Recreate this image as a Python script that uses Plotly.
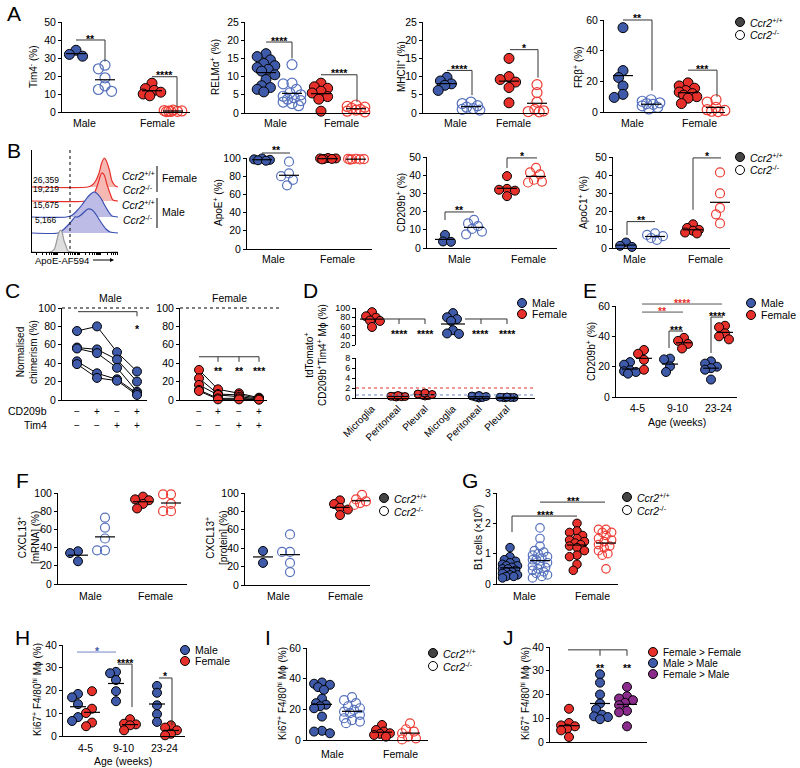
import numpy as np
import plotly.graph_objects as go

W, H = 800, 768
FONT = "Liberation Sans, Arial, sans-serif"
BLUE, BLUE_O = "#3E5AA8", "#5671BD"
RED, RED_O = "#E8302A", "#EE3D35"
PURPLE = "#8B2C8C"
WT = "<i>Ccr2</i><sup>+/+</sup>"
KO = "<i>Ccr2</i><sup>-/-</sup>"

# ---------------- data ----------------
# A  (male wt, male ko, female wt, female ko)
tim4_m_wt = [34.3, 32, 31]
tim4_m_ko = [26, 24, 19, 14.5, 12.5, 11.5]
tim4_f_wt = [16, 13, 12, 11, 10, 9]
tim4_f_ko = [1.0, 0.8, 0.6, 0.5, 0.4, 0.3, 0.2]

relma_m_wt = [16.3, 15.5, 14.6, 13.6, 13, 12.5, 12, 11.5, 10.5, 9.2, 7.5, 7, 6.5, 5.8]
relma_m_ko = [13.3, 8.2, 8.0, 6.5, 5.5, 5.0, 4.6, 4.2, 3.8, 3.4, 3.0, 2.6, 2.0]
relma_f_wt = [8.2, 7.2, 6.8, 6.0, 5.5, 4.5, 3.8, 0.5]
relma_f_ko = [2.2, 1.8, 1.6, 1.3, 1.0, 0.8, 0.5, 0.3]

mhc_m_wt = [9.8, 8.8, 8.0, 7.6, 6.2]
mhc_m_ko = [3.0, 2.6, 2.0, 1.6, 1.2, 1.0, 0.8]
mhc_f_wt = [15, 10, 9.2, 8.5, 7, 2.8]
mhc_f_ko = [7.8, 5.6, 3.0, 1.0, 0.6, 0.4, 0.3]

frb_m_wt = [55, 27, 22.5, 17, 11.5, 9.5]
frb_m_ko = [8, 7, 6, 5.5, 5, 4, 3, 2]
frb_f_wt = [19, 17, 15.5, 14, 13, 12, 11, 10, 9, 5.5]
frb_f_ko = [8, 6.5, 3, 1.5, 1, 0.5, 0.3]

# B histogram (ApoE-AF594 intensity 0-100, relative count)
hist_rows = ["F_wt", "F_ko", "M_wt", "M_ko", "iso"]
hist_mfi = ["26,359", "19,219", "15,675", "5,166"]
hist_x = {
    "F_wt": [0, 65, 70, 74, 78, 81, 84, 86, 90, 93, 97, 100],
    "F_ko": [0, 63, 67, 72, 77, 79, 81, 84, 87, 91, 94, 100],
    "M_wt": [0, 40, 47, 52, 58, 63, 67, 72, 75, 80, 85, 90, 93, 100],
    "M_ko": [0, 30, 36, 42, 47, 50, 53, 57, 62, 65, 70, 74, 80, 86, 91, 100],
    "iso": [0, 21, 26, 29, 31, 33, 35, 37, 40, 42, 100],
}
hist_y = {
    "F_wt": [0, 0, 2, 6, 14, 24, 29, 27, 17, 6, 1, 0],
    "F_ko": [0, 0, 2, 7, 18, 24, 28, 26, 17, 7, 1, 0],
    "M_wt": [0, 0, 2, 6, 12, 18, 22, 25, 24, 19, 11, 4, 1, 0],
    "M_ko": [0, 0, 3, 8, 13, 16, 16, 18, 22, 24, 23, 19, 11, 4, 1, 0],
    "iso": [0, 0, 3, 12, 19, 22, 20, 12, 5, 1, 0],
}

apoe_m_wt = [99.5, 98.5, 98, 97.5, 97]
apoe_m_ko = [96, 83, 80, 76, 70]
apoe_f_wt = [100, 99.5, 99.5, 99, 99, 98.5]
apoe_f_ko = [99.2, 99, 98.8, 98.6, 98.4, 98.2]

cd209_m_wt = [7.2, 3.6, 3.4]
cd209_m_ko = [15.5, 13.5, 12, 10.5, 9, 7.5]
cd209_f_wt = [39.5, 32.5, 32, 31.5, 28.5]
cd209_f_ko = [44, 41.5, 40.5, 37.5, 36.5, 36]

apoc1_m_wt = [3.0, 1.2, 0.6]
apoc1_m_ko = [8, 7.2, 6.5, 5.5, 4.5]
apoc1_f_wt = [13, 11, 10, 9.5, 8.5, 8]
apoc1_f_ko = [41.5, 30, 22, 18.5, 13.5]

# C  chimerism per mouse across CD209b/Tim4 subsets
chim_cd209b = ["−", "+", "−", "+"]
chim_tim4 = ["−", "−", "+", "+"]
chim_male = [[75, 80, 52, 31], [57, 55, 44, 20], [56, 51, 35, 9], [42, 29, 22.5, 7.3], [39, 24, 21, 5.5]]
chim_female = [[32.7, 11.6, 7.3, 2.5], [23.6, 6.5, 5.5, 1.8], [16.4, 5.5, 3.6, 1.1],
               [10.9, 1.8, 1.8, 0.7], [9.8, 0.7, 0.7, 0.4]]

# D
d_sites = ["Microglia", "Peritoneal", "Pleural", "Microglia", "Peritoneal", "Pleural"]
d_f_micro = [91, 82, 79, 73, 72, 59]
d_f_perit = [0.2, 0.25, 0.3, 0.3, 0.35, 0.5]
d_f_pleur = [0.4, 0.5, 0.6, 0.7, 0.8, 1.0]
d_m_micro = [89, 80, 76, 72, 52, 45, 44]
d_m_perit = [0.0, 0.1, 0.2, 0.3, 0.4, 0.5]
d_m_pleur = [0.05, 0.1, 0.1, 0.1, 0.15, 0.2]
d_thr_f, d_thr_m = 2.0, 0.6

# E
ages = ["4-5", "9-10", "23-24"]
e_male = [[23, 21.3, 17.6, 17, 16.5, 15.4], [25.3, 24.8, 20.2, 16.5], [23.5, 22, 20, 19, 18, 11.5]]
e_female = [[31, 28.5, 24.5, 18], [39, 37, 35, 32], [47, 46, 42, 40, 38]]

# F
cxm_m_wt = [36, 34, 25]
cxm_m_ko = [73, 62, 50, 37, 37]
cxm_f_wt = [96, 93, 92, 88, 83]
cxm_f_ko = [98.5, 98.5, 88, 80, 80]
cxp_m_wt = [37, 24]
cxp_m_ko = [55, 36, 36, 24, 14]
cxp_f_wt = [92, 88, 84, 82, 76]
cxp_f_ko = [98, 93, 91, 89, 87]

# G
b1_m_wt = [1.2, 0.9, 0.8, 0.75, 0.7, 0.65, 0.6, 0.6, 0.55, 0.5, 0.5, 0.45, 0.4, 0.4,
           0.35, 0.3, 0.3, 0.25, 0.25, 0.2]
b1_m_ko = [1.85, 1.5, 1.25, 1.1, 1.05, 1.0, 0.95, 0.9, 0.85, 0.8, 0.8, 0.7, 0.65, 0.6,
           0.55, 0.5, 0.45, 0.4, 0.35, 0.3, 0.25, 0.2]
b1_f_wt = [2.0, 1.75, 1.7, 1.6, 1.5, 1.45, 1.4, 1.35, 1.3, 1.25, 1.2, 1.1, 0.95, 0.9, 0.65, 0.45]
b1_f_ko = [1.8, 1.8, 1.7, 1.7, 1.6, 1.5, 1.45, 1.4, 1.3, 1.25, 1.2, 1.1, 1.0, 0.95, 0.5]

# H
h_male = [[18.5, 17, 14, 8.3, 6.6], [28.2, 27.6, 24.6, 19.7, 15.3], [22, 19, 13.5, 9.6, 6.2]]
h_female = [[19.7, 12, 10.1, 5.9, 4.3], [7.4, 5.4, 5.1, 4.7, 2.5], [4.7, 3.7, 2.5, 1.0, 0.3]]

# I
ki_m_wt = [37.5, 36.7, 36, 34.5, 32.7, 27, 24, 23, 22, 20.7, 15.3, 6, 5.5, 4.4]
ki_m_ko = [28, 26, 24, 22, 20.7, 19.6, 18.5, 17.5, 16.4, 14.2, 13, 12, 11]
ki_f_wt = [9.8, 6.5, 5.5, 4.4, 4, 3.3, 2.2]
ki_f_ko = [10.9, 7, 5.5, 4.4, 2.2, 1.1, 0.4]

# J
j_groups = ["Female > Female", "Male > Male", "Female > Male"]
j_ff = [14, 8, 7, 6.6, 5.6, 4.9, 2.1]
j_mm = [28.5, 25, 20, 16.2, 13.8, 11.5, 10.8, 10.5, 9.6]
j_fm = [23.2, 19.3, 18.3, 17.6, 16.5, 15.5, 13.1, 12.5, 6.6]

# ---------------- helpers ----------------
fig = go.Figure()
AX, SHAPES, ANNOS, LAYOUT = {}, [], [], {}


def add_axes(key, l, r, t, b, yr, dtick, xr=None, xline=True, yline=True, tsize=10.5):
    i = len(AX) + 1
    s = "" if i == 1 else str(i)
    LAYOUT["xaxis" + s] = dict(domain=[l / W, r / W], range=xr or [l, r], anchor="y" + s,
                               showline=xline, linecolor="black", linewidth=1, ticks="",
                               showticklabels=False, showgrid=False, zeroline=False,
                               automargin=False, fixedrange=True)
    LAYOUT["yaxis" + s] = dict(domain=[1 - b / H, 1 - t / H], range=yr, anchor="x" + s,
                               showline=yline, linecolor="black", linewidth=1,
                               ticks="outside" if dtick else "", ticklen=3, tickcolor="black",
                               tick0=yr[0], dtick=dtick, showticklabels=bool(dtick),
                               tickfont=dict(size=tsize), showgrid=False, zeroline=False,
                               automargin=False, fixedrange=True)
    AX[key] = dict(x="x" + s, y="y" + s, xa="xaxis" + s, l=l, r=r, t=t, b=b, yr=yr)


def vpx(key, v):
    a = AX[key]
    y0, y1 = a["yr"]
    return a["b"] - (v - y0) / (y1 - y0) * (a["b"] - a["t"])


def path(pts, color="black", width=1, dash=None):
    d = "M " + " L ".join(f"{x / W:.5f},{1 - y / H:.5f}" for x, y in pts)
    SHAPES.append(dict(type="path", path=d, xref="paper", yref="paper",
                       line=dict(color=color, width=width, dash=dash)))


def bracket(key, pts, color="#333333"):
    path([(x, vpx(key, v)) for x, v in pts], color=color, width=1)


def txt(x, y, text, size=10.5, color="black", xa="center", angle=0):
    ANNOS.append(dict(x=x / W, y=1 - y / H, xref="paper", yref="paper", text=text,
                      showarrow=False, xanchor=xa, yanchor="middle", textangle=angle,
                      font=dict(size=size, color=color, family=FONT)))


def stars(x, y, text, color="black"):
    txt(x, y + 2.5, "<b>" + text + "</b>", size=10.5, color=color)


def legend(x, y, text, fill, edge="black", size=10.5):
    r = 4.5
    SHAPES.append(dict(type="circle", xref="paper", yref="paper",
                       x0=(x - r) / W, x1=(x + r) / W, y0=1 - (y + r) / H, y1=1 - (y - r) / H,
                       fillcolor=fill, line=dict(color=edge, width=1)))
    txt(x + 8, y, text, size=size, xa="left")


def swarm(key, vals, cx, size, cap):
    ys = [vpx(key, v) for v in vals]
    step = size * 0.22
    n = int(cap / step)
    cands = sorted([k * step for k in range(-n, n + 1)], key=abs)
    placed, xs = [], [cx] * len(vals)
    for i in sorted(range(len(vals)), key=lambda j: ys[j]):
        best, bestd = cx, -1
        for off in cands:
            d = min([np.hypot(cx + off - x, ys[i] - y) for x, y in placed] or [1e9])
            if d >= size * 0.75:
                best = cx + off
                break
            if d > bestd:
                best, bestd = cx + off, d
        placed.append((best, ys[i]))
        xs[i] = best
    return xs


def dots(key, vals, cx, color, filled=True, size=9, half=10, cap=None, mean=True):
    a = AX[key]
    xs = swarm(key, vals, cx, size, cap if cap is not None else size * 0.9)
    if filled:
        mk = dict(size=size, color=color, line=dict(color="black", width=1))
    else:
        mk = dict(size=size, color=color, symbol="circle-open", line=dict(color=color, width=1.2))
    fig.add_trace(go.Scatter(x=xs, y=vals, xaxis=a["x"], yaxis=a["y"], mode="markers",
                             marker=mk, cliponaxis=False, showlegend=False, hoverinfo="skip"))
    if mean:
        m = float(np.mean(vals))
        fig.add_trace(go.Scatter(x=[cx - half, cx + half], y=[m, m], xaxis=a["x"], yaxis=a["y"],
                                 mode="lines", line=dict(color="black", width=1.2),
                                 showlegend=False, hoverinfo="skip"))


def four(key, sets, centers, size=9, half=10):
    styles = [(BLUE, True), (BLUE_O, False), (RED, True), (RED_O, False)]
    for vals, cx, (c, f) in zip(sets, centers, styles):
        dots(key, vals, cx, c, f, size=size, half=half)


def ytitle(x, y, text):
    txt(x, y, text, size=10, angle=-90)


# ---------------- A ----------------
txt(14, 14, "A", size=21)
add_axes("A1", 62, 190, 22, 112, [0, 50], 10)
four("A1", [tim4_m_wt, tim4_m_ko, tim4_f_wt, tim4_f_ko], [76, 105, 152, 173], size=10)
bracket("A1", [(76, 40), (105, 40), (105, 28)])
stars(90, vpx("A1", 40) - 4, "**")
bracket("A1", [(152, 19.6), (177, 19.6), (177, 3)])
stars(164, vpx("A1", 19.6) - 4, "****")
ytitle(33, 67, "Tim4<sup>-</sup> (%)")

add_axes("A2", 245, 370, 22, 113, [0, 25], 5)
four("A2", [relma_m_wt, relma_m_ko, relma_f_wt, relma_f_ko], [266, 292, 321, 356], size=10)
bracket("A2", [(266, 19.5), (292, 19.5), (292, 15)])
stars(279, vpx("A2", 19.5) - 4, "****")
bracket("A2", [(321, 10.5), (357, 10.5), (357, 3)])
stars(339, vpx("A2", 10.5) - 4, "****")
ytitle(215, 67, "RELMα<sup>+</sup> (%)")

add_axes("A3", 423, 547, 22, 113, [0, 25], 5)
four("A3", [mhc_m_wt, mhc_m_ko, mhc_f_wt, mhc_f_ko], [447, 471, 509, 537], size=10)
bracket("A3", [(447, 11.7), (472, 11.7), (472, 4.9)])
stars(459, vpx("A3", 11.7) - 4, "****")
bracket("A3", [(510, 17.4), (538, 17.4), (538, 9.7)])
stars(524, vpx("A3", 17.4) - 4, "*")
ytitle(401, 67, "MHCII<sup>+</sup> (%)")

add_axes("A4", 604, 725, 20, 112, [0, 60], 20)
four("A4", [frb_m_wt, frb_m_ko, frb_f_wt, frb_f_ko], [623, 651, 688, 716], size=10)
bracket("A4", [(623, 60), (652, 60), (652, 14)])
stars(637, vpx("A4", 60) - 4, "**")
bracket("A4", [(688, 27.3), (717, 27.3), (717, 9.9)])
stars(702, vpx("A4", 27.3) - 4, "***")
ytitle(578, 67, "FRβ<sup>+</sup> (%)")

for x, t in [(84, "Male"), (157, "Female"), (275, "Male"), (341, "Female"),
             (455, "Male"), (513, "Female"), (632, "Male"), (699, "Female")]:
    txt(x, 123, t)
legend(740, 22, WT, "#444444")
legend(740, 35, KO, "white")

# ---------------- B ----------------
txt(14, 150, "B", size=21)
add_axes("BH", 32, 118, 150, 252, [0, 102], None, xr=[0, 100])
LAYOUT[AX["BH"]["xa"]].update(ticks="outside", ticklen=2, tickcolor="black",
                              tickvals=[d + 25 * np.log10(k) for d in [5, 30, 55, 80] for k in range(1, 10)
                                        if d + 25 * np.log10(k) <= 100])
row_base = [65, 51, 35, 19, 0]
row_style = {"F_wt": (RED, "#F6B8B3"), "F_ko": (RED, "#F6B8B3"),
             "M_wt": ("#3A4FB0", "#BCBCE6"), "M_ko": ("#3A4FB0", "#BCBCE6"),
             "iso": ("#9A9A9A", "#DEDEDE")}
a = AX["BH"]
for row, base in zip(hist_rows, row_base):
    lc, fc = row_style[row]
    fig.add_trace(go.Scatter(x=[0, 100], y=[base, base], xaxis=a["x"], yaxis=a["y"], mode="lines",
                             line=dict(width=0), showlegend=False, hoverinfo="skip"))
    fig.add_trace(go.Scatter(x=hist_x[row], y=[base + v for v in hist_y[row]], xaxis=a["x"],
                             yaxis=a["y"], mode="lines", fill="tonexty", fillcolor=fc,
                             line=dict(color=lc, width=1.2, shape="spline", smoothing=0.7),
                             showlegend=False, hoverinfo="skip"))
path([(70, 150), (70, 252)], color="black", width=1, dash="dot")
for t, y in zip(hist_mfi, [180, 189, 205, 220]):
    txt(46, y, t, size=8.5)
for t, y in zip([WT, KO, WT, KO], [175, 189, 205, 220]):
    txt(138, y, t, size=10.5)
path([(157, 166), (157, 192)])
path([(157, 198), (157, 228)])
txt(160, 178, "Female", size=10.5, xa="left")
txt(160, 212, "Male", size=10.5, xa="left")
txt(33, 260, "ApoE-AF594", size=9.5, xa="left")
ANNOS.append(dict(x=114 / W, y=1 - 260 / H, xref="paper", yref="paper", ax=-24, ay=0, text=" ",
                  showarrow=True, arrowhead=2, arrowsize=0.8, arrowwidth=1, arrowcolor="black"))

add_axes("B2", 247, 372, 158, 249, [0, 100], 20)
four("B2", [apoe_m_wt, apoe_m_ko, apoe_f_wt, apoe_f_ko], [262, 289, 328, 356])
path([(262, 153), (290, 153)], color="#333333")
stars(276, 148, "**")
ytitle(218, 203, "ApoE<sup>+</sup> (%)")

add_axes("B3", 427, 557, 157, 248, [0, 50], 10)
four("B3", [cd209_m_wt, cd209_m_ko, cd209_f_wt, cd209_f_ko], [445, 474, 507, 536])
bracket("B3", [(445, 15.4), (445, 19.8), (474, 19.8)])
stars(459, vpx("B3", 19.8) - 4, "**")
bracket("B3", [(507, 44), (507, 49.5), (537, 49.5)])
stars(522, vpx("B3", 49.5) - 4, "*")
ytitle(401, 203, "CD209b<sup>+</sup> (%)")

add_axes("B4", 613, 730, 157, 248, [0, 50], 10)
four("B4", [apoc1_m_wt, apoc1_m_ko, apoc1_f_wt, apoc1_f_ko], [626, 655, 693, 720])
bracket("B4", [(627, 7.1), (627, 14.5), (655, 14.5)])
stars(641, vpx("B4", 14.5) - 4, "**")
bracket("B4", [(693, 21), (693, 49.5), (721, 49.5)])
stars(707, vpx("B4", 49.5) - 4, "*")
ytitle(583, 203, "ApoC1<sup>+</sup> (%)")

for x, t in [(273, "Male"), (337, "Female"), (459, "Male"), (528, "Female"),
             (634, "Male"), (705, "Female")]:
    txt(x, 259, t)
legend(740, 157, WT, "#444444")
legend(740, 170, KO, "white")

# ---------------- C ----------------
txt(12, 290, "C", size=21)
cpos = {"C1": [77, 97, 117, 137], "C2": [199, 218, 239, 259]}
add_axes("C1", 62, 147, 308, 400, [0, 100], 20)
add_axes("C2", 180, 267, 308, 400, [0, 100], 20)
for key, mice, col in [("C1", chim_male, BLUE), ("C2", chim_female, RED)]:
    a = AX[key]
    for m in mice:
        fig.add_trace(go.Scatter(x=cpos[key], y=m, xaxis=a["x"], yaxis=a["y"], mode="lines+markers",
                                 line=dict(color="black", width=1),
                                 marker=dict(size=9, color=col, line=dict(color="black", width=1)),
                                 cliponaxis=False, showlegend=False, hoverinfo="skip"))
    for x, s1, s2 in zip(cpos[key], chim_cd209b, chim_tim4):
        txt(x, 411, s1, size=10)
        txt(x, 425, s2, size=10)
path([(62, vpx("C1", 100)), (152, vpx("C1", 100))], dash="dot")
path([(180, vpx("C2", 100)), (281, vpx("C2", 100))], dash="dot")
txt(110, 298, "Male")
txt(230, 298, "Female")
bracket("C1", [(78, 96), (137, 96), (137, 91)])
stars(137, 327, "*")
bracket("C2", [(199, 47), (259, 47)])
for x, s in zip(cpos["C2"][1:], ["**", "**", "***"]):
    bracket("C2", [(x, 47), (x, 41.5)])
    stars(x, 368, s)
txt(49, 411, "CD209b", size=10.5, xa="right")
txt(49, 425, "Tim4", size=10.5, xa="right")
ytitle(27, 352, "Normalised<br>chimerism (%)")

# ---------------- D ----------------
txt(310, 290, "D", size=21)
dpos = [372, 398, 425, 453, 479, 507]
add_axes("D1", 356, 535, 308, 345, [20, 100], 20, xline=False, tsize=9)
add_axes("D2", 356, 535, 358, 398, [0, 8], 2, tsize=9)
LAYOUT[AX["D2"]["xa"]].update(showticklabels=True, tickvals=dpos, ticktext=d_sites, tickangle=-45,
                              tickfont=dict(size=10))
path([(356, vpx("D2", d_thr_f)), (535, vpx("D2", d_thr_f))], color=RED, dash="dot")
path([(356, vpx("D2", d_thr_m)), (535, vpx("D2", d_thr_m))], color="#6F86C8", dash="dot")
dots("D1", d_f_micro, dpos[0], RED, size=9, half=12)
dots("D2", d_f_perit, dpos[1], RED, size=8, half=10)
dots("D2", d_f_pleur, dpos[2], RED, size=8, half=10)
dots("D1", d_m_micro, dpos[3], BLUE, size=9, half=12)
dots("D2", d_m_perit, dpos[4], BLUE, size=8, half=10)
dots("D2", d_m_pleur, dpos[5], BLUE, size=8, half=10)
for x0, x1, xm in [(383, 425, 399), (465, 507, 481)]:
    path([(x0, 319), (x1, 319)], color="#333333")
    path([(xm, 319), (xm, 324)], color="#333333")
    path([(x1, 319), (x1, 324)], color="#333333")
    stars(xm, 331, "****")
    stars(x1, 331, "****")
legend(522, 303, "Male", BLUE)
legend(522, 314, "Female", RED)
ytitle(316, 355, "tdTomato<sup>+</sup><br>CD209b<sup>+</sup>Tim4<sup>+</sup> Mϕ (%)")

# ---------------- E ----------------
txt(590, 290, "E", size=21)
epos = [637, 677, 718]
add_axes("E", 616, 737, 306, 397, [0, 60], 20)
for x, m, f, lab in zip(epos, e_male, e_female, ages):
    dots("E", m, x - 7, BLUE, size=9, half=8, cap=7)
    dots("E", f, x + 7, RED, size=9, half=8, cap=6)
    txt(x, 408, lab)
txt(677, 422, "Age (weeks)")
bracket("E", [(642, 61.3), (722, 61.3)], color="#555555")
stars(682, vpx("E", 61.3) - 4, "****", color=RED)
bracket("E", [(642, 56), (683, 56)], color="#555555")
stars(662, vpx("E", 56) - 4, "**", color=RED)
bracket("E", [(669, 32.3), (669, 43.5), (683, 43.5)])
stars(676, vpx("E", 43.5) - 4, "***")
bracket("E", [(711, 29), (711, 52.7), (723, 52.7)])
stars(717, vpx("E", 52.7) - 4, "****")
legend(751, 303, "Male", BLUE)
legend(751, 315, "Female", RED)
ytitle(591, 352, "CD209b<sup>+</sup> (%)")

# ---------------- F ----------------
txt(22, 480, "F", size=21)
add_axes("F1", 58, 187, 493, 584, [0, 100], 20)
four("F1", [cxm_m_wt, cxm_m_ko, cxm_f_wt, cxm_f_ko], [78, 105, 143, 171])
ytitle(28, 538, "CXCL13<sup>+</sup><br>[mRNA] (%)")
add_axes("F2", 245, 370, 493, 585, [0, 100], 20)
four("F2", [cxp_m_wt, cxp_m_ko, cxp_f_wt, cxp_f_ko], [263, 290, 340, 362])
ytitle(216, 538, "CXCL13<sup>+</sup><br>[protein] (%)")
for x, t in [(90, "Male"), (155, "Female"), (278, "Male"), (345, "Female")]:
    txt(x, 596, t)
legend(384, 498, WT, "#444444")
legend(384, 511, KO, "white")

# ---------------- G ----------------
txt(470, 480, "G", size=21)
add_axes("G", 497, 618, 493, 584, [0, 3], 1)
four("G", [b1_m_wt, b1_m_ko, b1_f_wt, b1_f_ko], [510, 540, 577, 606], size=8.5)
bracket("G", [(512, 1.71), (512, 2.24), (577, 2.24)])
stars(545, vpx("G", 2.24) - 4, "****")
bracket("G", [(540, 2.7), (605, 2.7)])
stars(573, vpx("G", 2.7) - 4, "***")
ytitle(478, 538, "B1 cells (×10<sup>6</sup>)")
for x, t in [(524, "Male"), (592, "Female")]:
    txt(x, 596, t)
legend(627, 497, WT, "#444444")
legend(627, 510, KO, "white")

# ---------------- H ----------------
txt(22, 637, "H", size=21)
hpos = [85, 123, 164]
add_axes("H", 63, 185, 645, 736, [0, 40], 10)
for x, m, f, lab in zip(hpos, h_male, h_female, ages):
    dots("H", m, x - 7, BLUE, size=9, half=8, cap=6)
    dots("H", f, x + 7, RED, size=9, half=8, cap=7)
    txt(x, 748, lab)
txt(123, 761, "Age (weeks)")
bracket("H", [(77, 36.9), (116, 36.9)], color="#6F86C8")
stars(97, vpx("H", 36.9) - 4, "*", color=BLUE)
bracket("H", [(118, 31.6), (132, 31.6), (132, 12.7)])
stars(125, vpx("H", 31.6) - 4, "****")
bracket("H", [(159, 25.5), (172, 25.5), (172, 4.8)])
stars(165, vpx("H", 25.5) - 4, "*")
legend(185, 650, "Male", BLUE)
legend(185, 661, "Female", RED)
ytitle(37, 690, "Ki67<sup>+</sup> F4/80<sup>hi</sup> Mϕ (%)")

# ---------------- I ----------------
txt(268, 637, "I", size=21)
add_axes("I", 307, 428, 648, 740, [0, 60], 20)
four("I", [ki_m_wt, ki_m_ko, ki_f_wt, ki_f_ko], [322, 352, 382, 410])
for x, t in [(332, "Male"), (400, "Female")]:
    txt(x, 754, t)
legend(433, 653, WT, "#444444")
legend(433, 666, KO, "white")
ytitle(282, 694, "Ki67<sup>+</sup> F4/80<sup>hi</sup> Mϕ (%)")

# ---------------- J ----------------
txt(508, 637, "J", size=21)
jpos = [569, 600, 627]
add_axes("J", 550, 647, 647, 742, [0, 40], 10)
for vals, x, c in zip([j_ff, j_mm, j_fm], jpos, [RED, BLUE, PURPLE]):
    dots("J", vals, x, c, size=9, half=10)
bracket("J", [(568, 38.8), (627, 38.8)])
for x in jpos[1:]:
    bracket("J", [(x, 38.8), (x, 36.3)])
    stars(x, 665, "**")
for (name, c), y in zip(zip(j_groups, [RED, BLUE, PURPLE]), [652, 663, 674]):
    legend(653, y, name, c, size=10)
ytitle(525, 694, "Ki67<sup>+</sup> F4/80<sup>hi</sup> Mϕ (%)")

fig.update_layout(width=W, height=H, margin=dict(l=0, r=0, t=0, b=0),
                  paper_bgcolor="white", plot_bgcolor="rgba(0,0,0,0)", showlegend=False,
                  font=dict(family=FONT, color="black", size=10.5),
                  shapes=SHAPES, annotations=ANNOS, **LAYOUT)
# page body has a default 8px margin; drop it so the figure sits at the window origin
fig.write_html("out.html", config={"displayModeBar": False},
               post_script="document.body.style.margin='0';")
